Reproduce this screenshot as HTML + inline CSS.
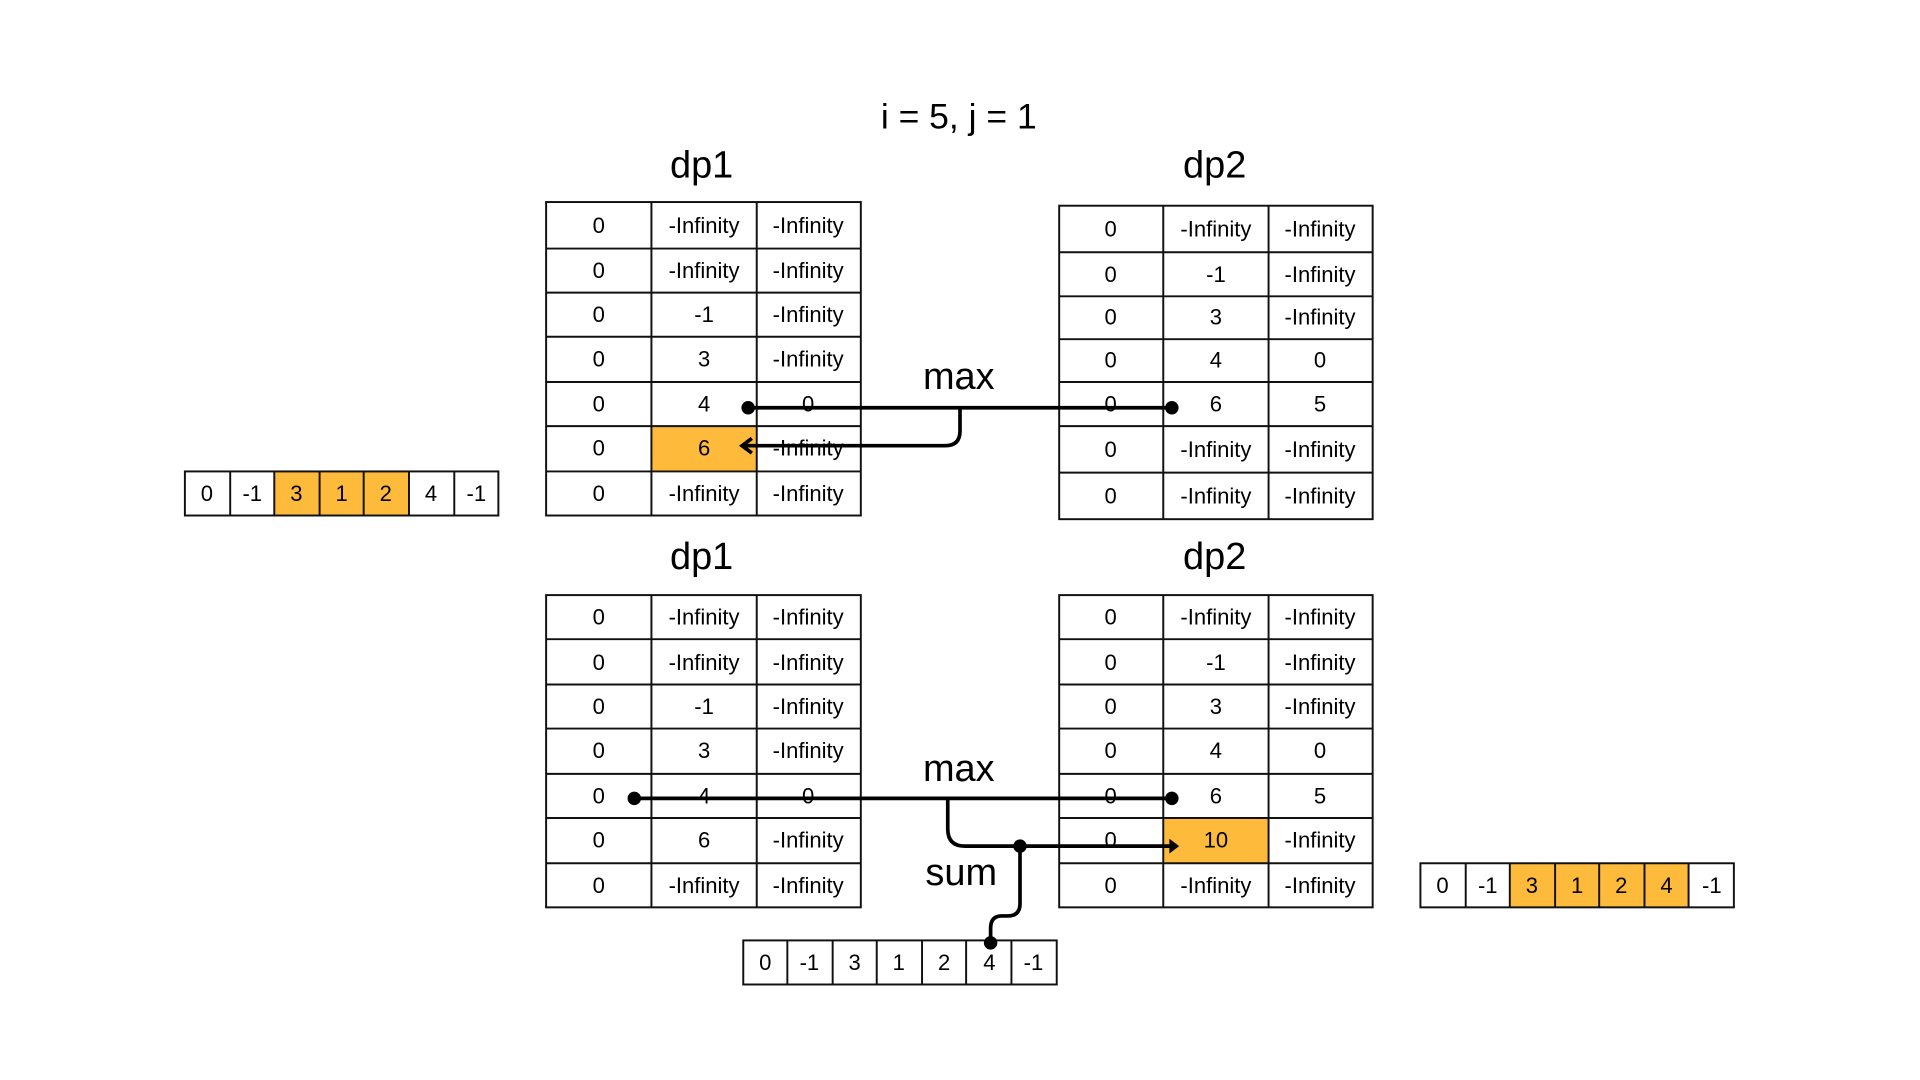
<!DOCTYPE html>
<html><head><meta charset="utf-8"><style>
html,body{margin:0;padding:0;background:#fff;}
svg{display:block;}
text{font-family:"Liberation Sans","DejaVu Sans",sans-serif;fill:#000;}
.c{font-size:18px;text-anchor:middle;dominant-baseline:central;}
.h{font-size:31px;text-anchor:middle;dominant-baseline:central;}
.g line,.g rect{stroke:#111;stroke-width:1.6;}
.w{stroke:#000;stroke-width:3;fill:none;}
</style></head><body>
<svg width="1920" height="1080" viewBox="0 0 1568 882" xmlns="http://www.w3.org/2000/svg">
<rect width="1568" height="882" fill="#fff"/>
<text class="h" x="783" y="95" style="font-size:29px">i = 5, j = 1</text>
<text class="h" x="573" y="135">dp1</text>
<text class="h" x="992" y="135">dp2</text>
<text class="h" x="573" y="455">dp1</text>
<text class="h" x="992" y="455">dp2</text>
<text class="h" x="783" y="308">max</text>
<text class="h" x="783" y="628">max</text>
<text class="h" x="785" y="713">sum</text>

<!-- orange fills -->
<rect x="532" y="348" width="86" height="37" fill="#FDBA3B"/>
<rect x="950" y="668" width="86" height="37" fill="#FDBA3B"/>
<rect x="224" y="385" width="110" height="36" fill="#FDBA3B"/>
<rect x="1233" y="705" width="146" height="36" fill="#FDBA3B"/>

<g class="g" fill="none">
<!-- top dp1 -->
<rect x="446" y="165" width="257" height="256" fill="none"/>
<line x1="532" y1="165" x2="532" y2="421"/><line x1="618" y1="165" x2="618" y2="421"/>
<line x1="446" y1="203" x2="703" y2="203"/><line x1="446" y1="239" x2="703" y2="239"/><line x1="446" y1="275" x2="703" y2="275"/><line x1="446" y1="312" x2="703" y2="312"/><line x1="446" y1="348" x2="703" y2="348"/><line x1="446" y1="385" x2="703" y2="385"/>
<!-- top dp2 -->
<rect x="865" y="168" width="256" height="256" fill="none"/>
<line x1="950" y1="168" x2="950" y2="424"/><line x1="1036" y1="168" x2="1036" y2="424"/>
<line x1="865" y1="206" x2="1121" y2="206"/><line x1="865" y1="242" x2="1121" y2="242"/><line x1="865" y1="277" x2="1121" y2="277"/><line x1="865" y1="312" x2="1121" y2="312"/><line x1="865" y1="348" x2="1121" y2="348"/><line x1="865" y1="386" x2="1121" y2="386"/>
<!-- bottom dp1 -->
<rect x="446" y="486" width="257" height="255" fill="none"/>
<line x1="532" y1="486" x2="532" y2="741"/><line x1="618" y1="486" x2="618" y2="741"/>
<line x1="446" y1="522" x2="703" y2="522"/><line x1="446" y1="559" x2="703" y2="559"/><line x1="446" y1="595" x2="703" y2="595"/><line x1="446" y1="632" x2="703" y2="632"/><line x1="446" y1="668" x2="703" y2="668"/><line x1="446" y1="705" x2="703" y2="705"/>
<!-- bottom dp2 -->
<rect x="865" y="486" width="256" height="255" fill="none"/>
<line x1="950" y1="486" x2="950" y2="741"/><line x1="1036" y1="486" x2="1036" y2="741"/>
<line x1="865" y1="522" x2="1121" y2="522"/><line x1="865" y1="559" x2="1121" y2="559"/><line x1="865" y1="595" x2="1121" y2="595"/><line x1="865" y1="632" x2="1121" y2="632"/><line x1="865" y1="668" x2="1121" y2="668"/><line x1="865" y1="705" x2="1121" y2="705"/>
<!-- left array -->
<rect x="151" y="385" width="256" height="36" fill="none"/>
<line x1="188" y1="385" x2="188" y2="421"/><line x1="224" y1="385" x2="224" y2="421"/><line x1="261" y1="385" x2="261" y2="421"/><line x1="297" y1="385" x2="297" y2="421"/><line x1="334" y1="385" x2="334" y2="421"/><line x1="371" y1="385" x2="371" y2="421"/>
<!-- right array -->
<rect x="1160" y="705" width="256" height="36" fill="none"/>
<line x1="1197" y1="705" x2="1197" y2="741"/><line x1="1233" y1="705" x2="1233" y2="741"/><line x1="1270" y1="705" x2="1270" y2="741"/><line x1="1306" y1="705" x2="1306" y2="741"/><line x1="1343" y1="705" x2="1343" y2="741"/><line x1="1379" y1="705" x2="1379" y2="741"/>
<!-- bottom array -->
<rect x="607" y="768" width="256" height="36" fill="none"/>
<line x1="643" y1="768" x2="643" y2="804"/><line x1="680" y1="768" x2="680" y2="804"/><line x1="716" y1="768" x2="716" y2="804"/><line x1="753" y1="768" x2="753" y2="804"/><line x1="789" y1="768" x2="789" y2="804"/><line x1="826" y1="768" x2="826" y2="804"/>
</g>

<!-- top dp1 text -->
<text class="c" x="489" y="184">0</text><text class="c" x="575" y="184">-Infinity</text><text class="c" x="660" y="184">-Infinity</text>
<text class="c" x="489" y="221">0</text><text class="c" x="575" y="221">-Infinity</text><text class="c" x="660" y="221">-Infinity</text>
<text class="c" x="489" y="257">0</text><text class="c" x="575" y="257">-1</text><text class="c" x="660" y="257">-Infinity</text>
<text class="c" x="489" y="293">0</text><text class="c" x="575" y="293">3</text><text class="c" x="660" y="293">-Infinity</text>
<text class="c" x="489" y="330">0</text><text class="c" x="575" y="330">4</text><text class="c" x="660" y="330">0</text>
<text class="c" x="489" y="366">0</text><text class="c" x="575" y="366">6</text><text class="c" x="660" y="366">-Infinity</text>
<text class="c" x="489" y="403">0</text><text class="c" x="575" y="403">-Infinity</text><text class="c" x="660" y="403">-Infinity</text>
<!-- top dp2 text -->
<text class="c" x="907" y="187">0</text><text class="c" x="993" y="187">-Infinity</text><text class="c" x="1078" y="187">-Infinity</text>
<text class="c" x="907" y="224">0</text><text class="c" x="993" y="224">-1</text><text class="c" x="1078" y="224">-Infinity</text>
<text class="c" x="907" y="259">0</text><text class="c" x="993" y="259">3</text><text class="c" x="1078" y="259">-Infinity</text>
<text class="c" x="907" y="294">0</text><text class="c" x="993" y="294">4</text><text class="c" x="1078" y="294">0</text>
<text class="c" x="907" y="330">0</text><text class="c" x="993" y="330">6</text><text class="c" x="1078" y="330">5</text>
<text class="c" x="907" y="367">0</text><text class="c" x="993" y="367">-Infinity</text><text class="c" x="1078" y="367">-Infinity</text>
<text class="c" x="907" y="405">0</text><text class="c" x="993" y="405">-Infinity</text><text class="c" x="1078" y="405">-Infinity</text>
<!-- bottom dp1 text -->
<text class="c" x="489" y="504">0</text><text class="c" x="575" y="504">-Infinity</text><text class="c" x="660" y="504">-Infinity</text>
<text class="c" x="489" y="541">0</text><text class="c" x="575" y="541">-Infinity</text><text class="c" x="660" y="541">-Infinity</text>
<text class="c" x="489" y="577">0</text><text class="c" x="575" y="577">-1</text><text class="c" x="660" y="577">-Infinity</text>
<text class="c" x="489" y="613">0</text><text class="c" x="575" y="613">3</text><text class="c" x="660" y="613">-Infinity</text>
<text class="c" x="489" y="650">0</text><text class="c" x="575" y="650">4</text><text class="c" x="660" y="650">0</text>
<text class="c" x="489" y="686">0</text><text class="c" x="575" y="686">6</text><text class="c" x="660" y="686">-Infinity</text>
<text class="c" x="489" y="723">0</text><text class="c" x="575" y="723">-Infinity</text><text class="c" x="660" y="723">-Infinity</text>
<!-- bottom dp2 text -->
<text class="c" x="907" y="504">0</text><text class="c" x="993" y="504">-Infinity</text><text class="c" x="1078" y="504">-Infinity</text>
<text class="c" x="907" y="541">0</text><text class="c" x="993" y="541">-1</text><text class="c" x="1078" y="541">-Infinity</text>
<text class="c" x="907" y="577">0</text><text class="c" x="993" y="577">3</text><text class="c" x="1078" y="577">-Infinity</text>
<text class="c" x="907" y="613">0</text><text class="c" x="993" y="613">4</text><text class="c" x="1078" y="613">0</text>
<text class="c" x="907" y="650">0</text><text class="c" x="993" y="650">6</text><text class="c" x="1078" y="650">5</text>
<text class="c" x="907" y="686">0</text><text class="c" x="993" y="686">10</text><text class="c" x="1078" y="686">-Infinity</text>
<text class="c" x="907" y="723">0</text><text class="c" x="993" y="723">-Infinity</text><text class="c" x="1078" y="723">-Infinity</text>
<!-- arrays -->
<text class="c" x="169" y="403">0</text><text class="c" x="206" y="403">-1</text><text class="c" x="242" y="403">3</text><text class="c" x="279" y="403">1</text><text class="c" x="315" y="403">2</text><text class="c" x="352" y="403">4</text><text class="c" x="389" y="403">-1</text>
<text class="c" x="1178" y="723">0</text><text class="c" x="1215" y="723">-1</text><text class="c" x="1251" y="723">3</text><text class="c" x="1288" y="723">1</text><text class="c" x="1324" y="723">2</text><text class="c" x="1361" y="723">4</text><text class="c" x="1398" y="723">-1</text>
<text class="c" x="625" y="786">0</text><text class="c" x="661" y="786">-1</text><text class="c" x="698" y="786">3</text><text class="c" x="734" y="786">1</text><text class="c" x="771" y="786">2</text><text class="c" x="808" y="786">4</text><text class="c" x="844" y="786">-1</text>

<!-- top connectors -->
<line class="w" x1="611" y1="333" x2="957" y2="333"/>
<path class="w" d="M784 333 V352 Q784 364 772 364 H607"/>
<path class="w" d="M614 358 L606 364 L614 370"/>
<circle cx="611" cy="333" r="5.5"/><circle cx="957" cy="333" r="5.5"/>
<!-- bottom connectors -->
<line class="w" x1="518" y1="652" x2="957" y2="652"/>
<path class="w" d="M774 652 V677 Q774 691 788 691 H958"/>
<path d="M955 685 L963 691 L955 697 Z" fill="#000"/>
<path class="w" d="M833 691 V738 Q833 748 823 748 H818 Q809 748 809 758 V770"/>
<circle cx="518" cy="652" r="5.5"/><circle cx="957" cy="652" r="5.5"/>
<circle cx="833" cy="691" r="5.5"/><circle cx="809" cy="770" r="5.5"/>
</svg>
</body></html>
